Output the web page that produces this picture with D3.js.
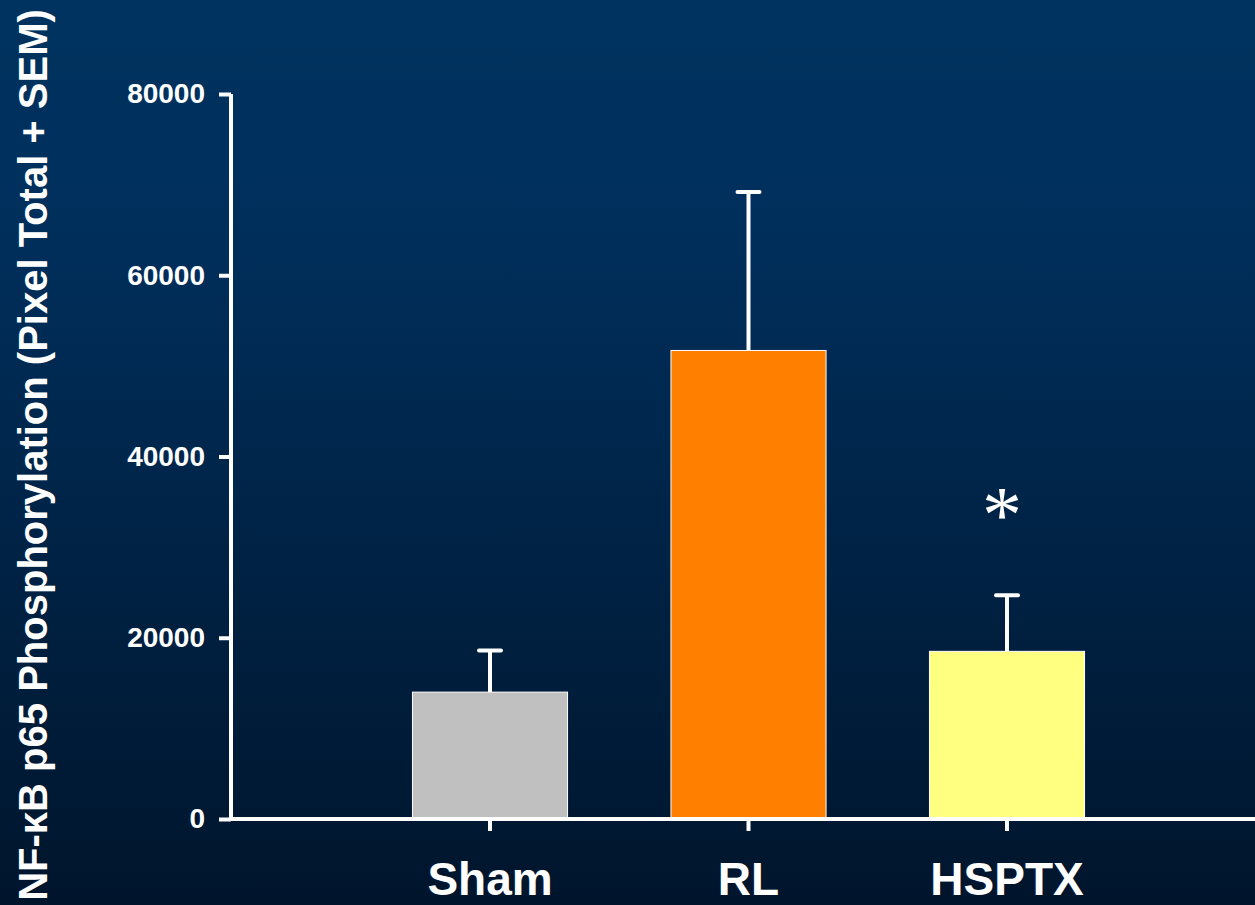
<!DOCTYPE html>
<html>
<head>
<meta charset="utf-8">
<script src="https://cdn.jsdelivr.net/npm/d3@7"></script>
<style>
  html, body { margin: 0; padding: 0; background: #001a33; }
  svg { display: block; font-family: "Liberation Sans", Arial, sans-serif; }
</style>
</head>
<body>
<svg id="chart" width="1255" height="905"></svg>
<script>
// datos del grafico
const grupos = ["Sham", "RL", "HSPTX"];
const medias = [14000, 51700, 18500];
const sem = [4600, 17500, 6200];
const colores = ["#c0c0c0", "#ff8000", "#ffff80"];
const ticksY = [0, 20000, 40000, 60000, 80000];
const tituloY = "NF-\u03BAB p65 Phosphorylation (Pixel Total + SEM)";
const significativo = ["HSPTX"];

const data = grupos.map((g, i) => ({ label: g, value: medias[i], err: sem[i], color: colores[i] }));

const width = 1255, height = 905;
const svg = d3.select("#chart");

// fondo degradado
const defs = svg.append("defs");
const grad = defs.append("linearGradient")
    .attr("id", "fondo")
    .attr("x1", 0).attr("y1", 0).attr("x2", 0).attr("y2", 1);
grad.append("stop").attr("offset", "0%").attr("stop-color", "#00335f");
grad.append("stop").attr("offset", "25%").attr("stop-color", "#002f5c");
grad.append("stop").attr("offset", "100%").attr("stop-color", "#00152c");

svg.append("rect")
    .attr("width", width)
    .attr("height", height)
    .attr("fill", "url(#fondo)");

// Escala X
const x = d3.scaleBand()
    .domain(grupos)
    .range([360.75, 1136.25])
    .paddingInner(0.4)
    .paddingOuter(0.2);

// Escala Y
const y = d3.scaleLinear()
    .domain([0, 80000])
    .range([819, 94]);

// Barras
svg.selectAll("rect.barra")
    .data(data)
    .join("rect")
    .attr("class", "barra")
    .attr("x", d => x(d.label))
    .attr("y", d => y(d.value))
    .attr("width", x.bandwidth())
    .attr("height", d => y(0) - y(d.value))
    .attr("fill", d => d.color)
    .attr("stroke", "#ffffff")
    .attr("stroke-width", 1);

// Barras de error (solo hacia arriba)
const errores = svg.append("g")
    .attr("stroke", "#ffffff")
    .attr("stroke-width", 4);

errores.selectAll("line.vert")
    .data(data)
    .join("line")
    .attr("class", "vert")
    .attr("x1", d => x(d.label) + x.bandwidth() / 2)
    .attr("x2", d => x(d.label) + x.bandwidth() / 2)
    .attr("y1", d => y(d.value))
    .attr("y2", d => y(d.value + d.err));

errores.selectAll("line.tapa")
    .data(data)
    .join("line")
    .attr("class", "tapa")
    .attr("stroke-linecap", "round")
    .attr("x1", d => x(d.label) + x.bandwidth() / 2 - 11)
    .attr("x2", d => x(d.label) + x.bandwidth() / 2 + 11)
    .attr("y1", d => y(d.value + d.err))
    .attr("y2", d => y(d.value + d.err));

// Asterisco de significancia
svg.selectAll("text.asterisco")
    .data(data.filter(d => significativo.includes(d.label)))
    .join("text")
    .attr("class", "asterisco")
    .attr("x", d => x(d.label) + x.bandwidth() / 2 - 5)
    .attr("y", d => y(d.value + d.err) - 53)
    .attr("text-anchor", "middle")
    .style("font-family", "'Liberation Serif', 'Times New Roman', serif")
    .style("font-size", "80px")
    .style("fill", "#ffffff")
    .text("*");

// Eje Y
const ejeY = svg.append("g")
    .attr("transform", "translate(231,0)")
    .call(d3.axisLeft(y)
        .tickValues(ticksY)
        .tickFormat(d3.format("d"))
        .tickSize(12)
        .tickSizeOuter(0)
        .tickPadding(14));

ejeY.select(".domain")
    .attr("stroke", "#ffffff")
    .attr("stroke-width", 4)
    .attr("d", `M0,${y(0) + 2}V${y(80000)}`);
ejeY.selectAll(".tick line")
    .attr("stroke", "#ffffff")
    .attr("stroke-width", 4);
ejeY.selectAll(".tick text")
    .style("font-size", "28px")
    .style("font-weight", "bold")
    .style("font-family", "'Liberation Sans', Arial, sans-serif")
    .attr("fill", "#ffffff");

// Eje X
const ejeX = svg.append("g")
    .attr("transform", `translate(0,${y(0)})`)
    .call(d3.axisBottom(x)
        .tickSize(12)
        .tickSizeOuter(0)
        .tickPadding(31));

ejeX.select(".domain")
    .attr("stroke", "#ffffff")
    .attr("stroke-width", 4)
    .attr("d", `M229,0H${width}`);
ejeX.selectAll(".tick line")
    .attr("stroke", "#ffffff")
    .attr("stroke-width", 4);
ejeX.selectAll(".tick text")
    .style("font-size", "46px")
    .style("font-weight", "bold")
    .style("font-family", "'Liberation Sans', Arial, sans-serif")
    .attr("fill", "#ffffff");

// Titulo eje Y
svg.append("text")
    .attr("transform", "translate(47,455) rotate(-90)")
    .attr("text-anchor", "middle")
    .style("font-size", "40px")
    .style("font-weight", "bold")
    .style("fill", "#ffffff")
    .text(tituloY);
</script>
</body>
</html>
